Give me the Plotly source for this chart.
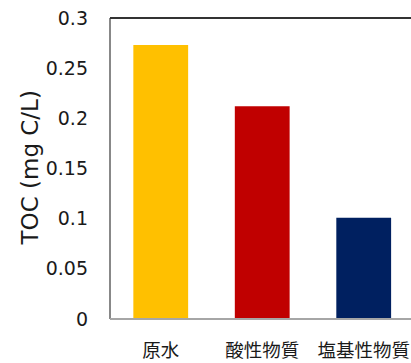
import plotly.graph_objects as go

categories = ["原水", "酸性物質", "塩基性物質"]
toc_values = [0.273, 0.212, 0.101]
bar_colors = ["#FFC000", "#C00000", "#002060"]
y_ticks = [0, 0.05, 0.1, 0.15, 0.2, 0.25, 0.3]
y_tick_text = ["0", "0.05", "0.1", "0.15", "0.2", "0.25", "0.3"]

num_font = "DejaVu Sans, Verdana, sans-serif"
cjk_font = "Noto Sans CJK JP, sans-serif"
text_color = "#1a1a1a"

fig = go.Figure(
    go.Bar(
        x=categories,
        y=toc_values,
        marker=dict(color=bar_colors, line=dict(width=0)),
        width=0.54,
        hoverinfo="x+y",
    )
)

fig.update_layout(
    width=411,
    height=363,
    margin=dict(l=110, r=0, t=18, b=44),
    paper_bgcolor="white",
    plot_bgcolor="white",
    showlegend=False,
    xaxis=dict(
        type="category",
        range=[-0.5, 2.466],
        showline=False,
        showgrid=False,
        zeroline=False,
        ticks="",
        tickfont=dict(family=cjk_font, size=18.5, color=text_color),
        ticklabelstandoff=18,
    ),
    yaxis=dict(
        range=[0, 0.3],
        tickvals=y_ticks,
        ticktext=y_tick_text,
        showline=False,
        showgrid=False,
        zeroline=False,
        ticks="",
        tickfont=dict(family=num_font, size=19, color=text_color),
        ticklabelstandoff=21,
    ),
    annotations=[
        dict(
            text="TOC (mg C/L)",
            textangle=-90,
            xref="paper",
            yref="paper",
            x=-81 / 301,
            y=0.5,
            xanchor="center",
            yanchor="middle",
            showarrow=False,
            font=dict(family=num_font, size=23, color=text_color),
        )
    ],
    shapes=[
        # frame: gray left and bottom edges, dark top edge
        dict(type="line", xref="paper", yref="paper", x0=0, x1=0, y0=0, y1=1,
             line=dict(color="#888888", width=2)),
        dict(type="line", xref="paper", yref="paper", x0=0, x1=1, y0=0, y1=0,
             line=dict(color="#a6a6a6", width=2)),
        dict(type="line", xref="paper", yref="paper", x0=0, x1=1, y0=1, y1=1,
             line=dict(color="#333333", width=2)),
    ],
)

fig.write_html("out.html")
